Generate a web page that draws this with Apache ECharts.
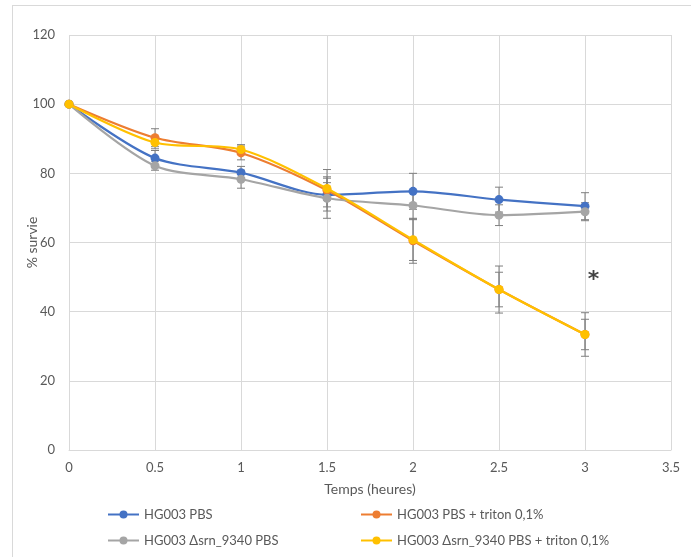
<!DOCTYPE html>
<html><head><meta charset="utf-8">
<script src="https://cdn.jsdelivr.net/npm/echarts@6/dist/echarts.min.js"></script>
<style>
html,body{margin:0;padding:0;background:#fff;}
#frame{position:absolute;left:12px;top:5px;width:700px;height:570px;border:1px solid #d9d9d9;box-sizing:border-box;}
#c{position:absolute;left:0;top:0;width:691px;height:557px;}
</style></head>
<body>
<div id="frame"></div>
<div id="c"></div>
<script>
const times = [0, 0.5, 1, 1.5, 2, 2.5, 3];
const seriesNames = ['HG003 PBS', 'HG003 PBS + triton 0,1%', 'HG003 Δsrn_9340 PBS', 'HG003 Δsrn_9340 PBS + triton 0,1%'];
const bluePBS = [100, 84.4, 80.2, 73.8, 74.8, 72.4, 70.5];
const orangeTriton = [100, 90.3, 85.9, 75.1, 60.5, 46.4, 33.4];
const grayMutPBS = [100, 82.2, 78.3, 72.8, 70.7, 67.9, 68.9];
const yellowMutTriton = [100, 88.9, 86.9, 75.6, 60.8, 46.4, 33.4];
const blueErr = [0, 2.2, 1.8, 3.5, 5.2, 3.6, 3.9];
const orangeErr = [0, 2.6, 2.0, 6.0, 6.5, 6.8, 6.3];
const grayErr = [0, 1.3, 2.6, 5.8, 4.1, 3.0, 2.6];
const yellowErr = [0, 1.8, 1.4, 3.4, 6.0, 5.0, 4.4];
const yTicks = [0, 20, 40, 60, 80, 100, 120];
const xTicks = [0, 0.5, 1, 1.5, 2, 2.5, 3, 3.5];
const starMark = {x: 3.05, y: 49, text: '*'};

const colors = ['#4472C4', '#ED7D31', '#A5A5A5', '#FFC000'];
const values = [bluePBS, orangeTriton, grayMutPBS, yellowMutTriton];
const errs = [blueErr, orangeErr, grayErr, yellowErr];
const FONT = 'Lato, "Open Sans", sans-serif';

const chart = echarts.init(document.getElementById('c'), null, {renderer: 'canvas'});

function errSeries(vals, err, z) {
  return {
    type: 'custom',
    silent: true,
    z: z,
    data: times.map((t, i) => [t, vals[i] - err[i], vals[i] + err[i]]),
    renderItem: function (params, api) {
      if (api.value(2) === api.value(1)) return null;
      const lo = api.coord([api.value(0), api.value(1)]);
      const hi = api.coord([api.value(0), api.value(2)]);
      const w = 4;
      const st = {stroke: '#7f7f7f', lineWidth: 1};
      return {type: 'group', children: [
        {type: 'line', shape: {x1: lo[0], y1: lo[1], x2: hi[0], y2: hi[1]}, style: st},
        {type: 'line', shape: {x1: lo[0]-w, y1: lo[1], x2: lo[0]+w, y2: lo[1]}, style: st},
        {type: 'line', shape: {x1: hi[0]-w, y1: hi[1], x2: hi[0]+w, y2: hi[1]}, style: st}
      ]};
    }
  };
}

const series = [];
values.forEach((v, k) => {
  series.push(errSeries(v, errs[k], 1));
});
values.forEach((v, k) => {
  series.push({
    name: seriesNames[k],
    type: 'line',
    smooth: 0.3,
    z: 3 + k,
    symbol: 'circle',
    symbolSize: 9,
    showSymbol: true,
    color: colors[k],
    lineStyle: {width: 2.2, color: colors[k]},
    itemStyle: {color: colors[k]},
    data: times.map((t, i) => [t, v[i]])
  });
});
series.push({
  type: 'scatter',
  symbolSize: 0,
  silent: true,
  data: [[starMark.x, starMark.y]],
  label: {show: true, position: 'inside', formatter: starMark.text, fontSize: 22, fontWeight: 'bold', color: '#111', fontFamily: 'DejaVu Sans'}
});

const legendCommon = {
  itemWidth: 31, itemHeight: 10, itemGap: 10,
  textStyle: {fontSize: 13, color: '#595959', fontFamily: FONT},
  orient: 'horizontal', padding: 0
};
const legendPos = [[107, 508], [360, 508], [107, 534], [360, 534]];

chart.setOption({
  animation: false,
  textStyle: {fontFamily: FONT},
  grid: {left: 69, right: 20, top: 35, bottom: 107, containLabel: false},
  xAxis: {
    type: 'value', min: 0, max: 3.5, interval: 0.5,
    name: 'Temps (heures)', nameLocation: 'middle', nameGap: 32, nameMoveOverlap: false,
    nameTextStyle: {fontSize: 14, color: '#595959', fontFamily: FONT},
    axisLine: {show: true, lineStyle: {color: '#d9d9d9'}},
    axisTick: {show: false},
    axisLabel: {color: '#595959', fontSize: 13, margin: 11, formatter: v => String(v)},
    splitLine: {show: true, lineStyle: {color: '#d9d9d9'}}
  },
  yAxis: {
    type: 'value', min: 0, max: 120, interval: 20,
    name: '% survie', nameLocation: 'middle', nameGap: 30, nameMoveOverlap: false,
    nameTextStyle: {fontSize: 14, color: '#595959', fontFamily: FONT},
    axisLine: {show: false},
    axisTick: {show: false},
    axisLabel: {color: '#595959', fontSize: 13, margin: 14},
    splitLine: {show: true, lineStyle: {color: '#d9d9d9'}}
  },
  legend: seriesNames.map((n, k) => Object.assign({}, legendCommon, {left: legendPos[k][0], top: legendPos[k][1], data: [n]})),
  series: series
});
</script>
</body></html>
